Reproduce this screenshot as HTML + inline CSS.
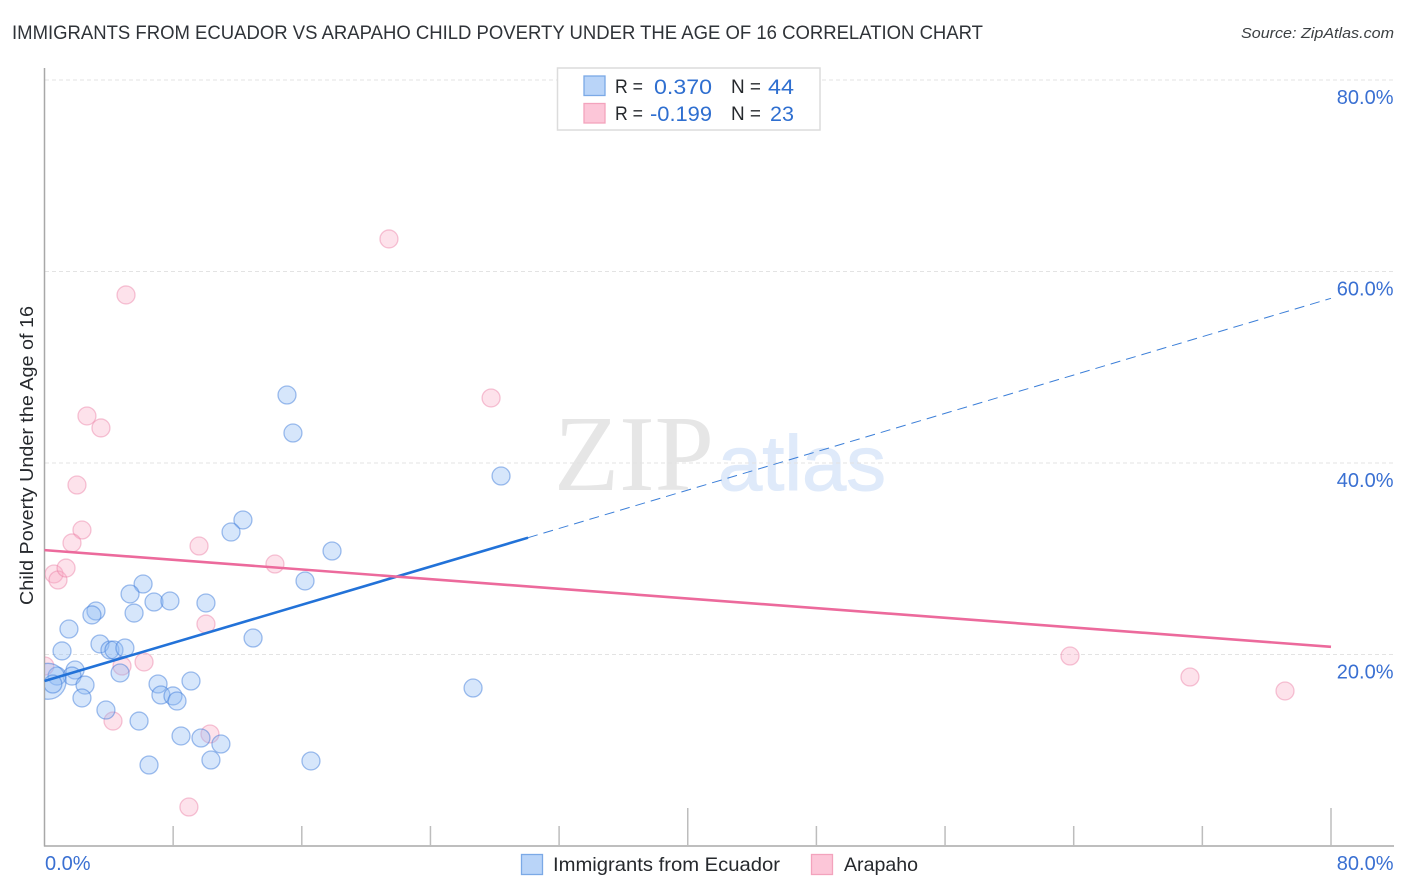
<!DOCTYPE html>
<html lang="en">
<head>
<meta charset="utf-8">
<title>Immigrants from Ecuador vs Arapaho Child Poverty Correlation Chart</title>
<style>
html,body{margin:0;padding:0;background:#fff;}
body{width:1406px;height:892px;overflow:hidden;}
svg{display:block;font-family:"Liberation Sans",Arial,sans-serif;}
</style>
</head>
<body>
<svg id="chart" xmlns="http://www.w3.org/2000/svg" width="1406" height="892" viewBox="0 0 1406 892">
  <defs>
    <clipPath id="plot-clip"><rect x="45" y="68" width="1349" height="778"/></clipPath>
  </defs>
  <rect x="0" y="0" width="1406" height="892" fill="#ffffff"/>
  <text x="12" y="39" font-size="19.5" fill="#2f3338" textLength="971" lengthAdjust="spacingAndGlyphs">IMMIGRANTS FROM ECUADOR VS ARAPAHO CHILD POVERTY UNDER THE AGE OF 16 CORRELATION CHART</text>
  <text x="1241" y="38" font-size="15" font-style="italic" fill="#3c4043" textLength="153" lengthAdjust="spacingAndGlyphs">Source: ZipAtlas.com</text>

  <g>
    <text x="554" y="490" font-family="'Liberation Serif',serif" font-size="108" fill="#e6e6e6" textLength="160" lengthAdjust="spacingAndGlyphs">ZIP</text>
    <text x="718" y="490" font-size="78" fill="#dfeafa" stroke="#dfeafa" stroke-width="1" textLength="168" lengthAdjust="spacingAndGlyphs">atlas</text>
  </g>

  <g id="grid"></g>
  <g id="axes"></g>
  <g id="points" clip-path="url(#plot-clip)"></g>
  <g id="trends"></g>
  <g id="labels"></g>

  <text transform="translate(33,605) rotate(-90)" font-size="18.5" fill="#26292d" textLength="299" lengthAdjust="spacingAndGlyphs">Child Poverty Under the Age of 16</text>

  <g>
    <rect x="557.5" y="68" width="262.5" height="62" fill="#ffffff" stroke="#dcdcdc" stroke-width="1.5"/>
    <rect x="584" y="76" width="21" height="19.5" fill="#b9d4f8" stroke="#7ba9e6" stroke-width="1.3"/>
    <rect x="584" y="103.5" width="21" height="19.5" fill="#fcc6d8" stroke="#f3a3bd" stroke-width="1.3"/>
    <text x="615" y="93" font-size="19" fill="#26292d" textLength="28" lengthAdjust="spacingAndGlyphs">R =</text>
    <text x="654" y="94" font-size="21.5" fill="#2f6fd0" textLength="58" lengthAdjust="spacingAndGlyphs">0.370</text>
    <text x="731" y="93" font-size="19" fill="#26292d" textLength="30" lengthAdjust="spacingAndGlyphs">N =</text>
    <text x="768" y="94" font-size="21.5" fill="#2f6fd0" textLength="26" lengthAdjust="spacingAndGlyphs">44</text>
    <text x="615" y="120" font-size="19" fill="#26292d" textLength="28" lengthAdjust="spacingAndGlyphs">R =</text>
    <text x="650" y="121" font-size="21.5" fill="#2f6fd0" textLength="62" lengthAdjust="spacingAndGlyphs">-0.199</text>
    <text x="731" y="120" font-size="19" fill="#26292d" textLength="30" lengthAdjust="spacingAndGlyphs">N =</text>
    <text x="770" y="121" font-size="21.5" fill="#2f6fd0" textLength="24" lengthAdjust="spacingAndGlyphs">23</text>
  </g>

  <g>
    <rect x="521.5" y="854.5" width="21" height="20" fill="#b9d4f8" stroke="#7ba9e6" stroke-width="1.3"/>
    <text x="553" y="871" font-size="19.5" fill="#26292d" textLength="227" lengthAdjust="spacingAndGlyphs">Immigrants from Ecuador</text>
    <rect x="811.5" y="854.5" width="21" height="20" fill="#fcc6d8" stroke="#f3a3bd" stroke-width="1.3"/>
    <text x="844" y="871" font-size="19.5" fill="#26292d" textLength="74" lengthAdjust="spacingAndGlyphs">Arapaho</text>
  </g>
</svg>

<script>
// Chart data (percent units)
const yTicks = [20, 40, 60, 80];
const yTickLabels = ['20.0%', '40.0%', '60.0%', '80.0%'];
const xTicks = [0, 8, 16, 24, 32, 40, 48, 56, 64, 72, 80];
const xMajorTicks = [40, 80];
const xEdgeLabels = ['0.0%', '80.0%'];

const ecuadorX = [15.08, 15.45, 28.39, 12.34, 11.60, 17.88, 16.20, 6.13, 5.32, 6.81, 7.80, 10.04, 3.20, 2.95, 5.57, 1.52, 12.97, 3.45, 4.07, 4.32, 5.00, 1.09, 1.90, 1.71, 4.70, 0.78, 9.11, 7.06, 2.52, 0.22, 0.52, 26.65, 7.24, 7.99, 8.24, 2.33, 3.82, 5.88, 8.49, 9.73, 10.97, 10.35, 6.50, 16.57];
const ecuadorY = [47.10, 43.13, 38.64, 34.05, 32.79, 30.81, 27.68, 27.36, 26.32, 25.48, 25.59, 25.38, 24.54, 24.13, 24.33, 22.66, 21.72, 21.10, 20.47, 20.47, 20.68, 20.37, 18.38, 17.75, 18.07, 17.75, 17.23, 16.92, 16.81, 17.20, 16.92, 16.50, 15.77, 15.67, 15.14, 15.46, 14.20, 13.05, 11.49, 11.28, 10.65, 8.98, 8.46, 8.88];
const ecuadorWeight = [1, 1, 1, 1, 1, 1, 1, 1, 1, 1, 1, 1, 1, 1, 1, 1, 1, 1, 1, 1, 1, 1, 1, 1, 1, 1, 1, 1, 1, 4, 1, 1, 1, 1, 1, 1, 1, 1, 1, 1, 1, 1, 1, 1];

const arapahoX = [21.42, 5.07, 27.77, 2.64, 3.51, 2.02, 2.33, 1.71, 9.61, 14.33, 0.59, 0.84, 1.34, 10.04, 4.82, 6.19, 0.02, 4.26, 10.29, 8.98, 63.77, 71.23, 77.14];
const arapahoY = [63.40, 57.55, 46.79, 44.91, 43.66, 37.70, 33.00, 31.65, 31.33, 29.45, 28.41, 27.78, 29.03, 23.18, 18.80, 19.22, 18.80, 13.05, 11.70, 4.07, 19.84, 17.65, 16.19];

const ecuadorTrendX = [0, 30.07, 80];
const ecuadorTrendY = [17.23, 32.2, 57.2];
const arapahoTrendX = [0, 80];
const arapahoTrendY = [30.9, 20.8];

// Axis functions
const xScale = v => 44.5 + v * (1331 - 44.5) / 80;
const yScale = v => 846 - v * (846 - 80) / 80;

const NS = 'http://www.w3.org/2000/svg';
function make(tag, parent, attrs, text) {
  const el = document.createElementNS(NS, tag);
  for (const k in attrs) el.setAttribute(k, attrs[k]);
  if (text !== undefined) el.textContent = text;
  parent.appendChild(el);
  return el;
}
const gridG = document.getElementById('grid');
const axesG = document.getElementById('axes');
const pointsG = document.getElementById('points');
const trendsG = document.getElementById('trends');
const labelsG = document.getElementById('labels');

yTicks.forEach((t, i) => {
  const line = make('line', gridG, {x1: 45, x2: 1394, y1: yScale(t), y2: yScale(t), stroke: '#e3e3e3', 'stroke-width': 1, 'stroke-dasharray': '4 3'});
  
  
  const label = make('text', labelsG, {x: 1393.5, y: yScale(t) + 24, 'text-anchor': 'end', 'font-size': 20, fill: '#3a70d2'}, yTickLabels[i]);
  
  
});

const yAxis = make('line', axesG, {x1: 44.5, x2: 44.5, y1: 68, y2: 846.5, stroke: '#a8a8a8', 'stroke-width': 1.5});


const xAxis = make('line', axesG, {x1: 44, x2: 1394, y1: 846, y2: 846, stroke: '#a8a8a8', 'stroke-width': 1.5});


xTicks.slice(1).forEach(t => {
  const top = xMajorTicks.includes(t) ? 808 : 826;
  const tick = make('line', axesG, {x1: xScale(t), x2: xScale(t), y1: top, y2: 846, stroke: '#bdbdbd', 'stroke-width': 1.5});
  
  
});

const xLabelLeft = make('text', labelsG, {x: xScale(xTicks[0]) + 0.5, y: 870, 'font-size': 20, fill: '#3a70d2'}, xEdgeLabels[0]);


const xLabelRight = make('text', labelsG, {x: 1393.5, y: 870, 'text-anchor': 'end', 'font-size': 20, fill: '#3a70d2'}, xEdgeLabels[1]);



const baseRadius = 9;
arapahoX.forEach((x, i) => {
  const c = make('circle', pointsG, {cx: xScale(x), cy: yScale(arapahoY[i]), r: baseRadius, fill: 'rgba(248,170,195,0.34)', stroke: 'rgba(233,120,160,0.42)', 'stroke-width': 1.3});
  
  
});
ecuadorX.forEach((x, i) => {
  const c = make('circle', pointsG, {cx: xScale(x), cy: yScale(ecuadorY[i]), r: baseRadius * Math.sqrt(ecuadorWeight[i]), fill: 'rgba(140,186,243,0.36)', stroke: 'rgba(50,115,215,0.45)', 'stroke-width': 1.3});
  
  
});

const blueSolid = make('line', trendsG, {x1: xScale(ecuadorTrendX[0]), y1: yScale(ecuadorTrendY[0]), x2: xScale(ecuadorTrendX[1]), y2: yScale(ecuadorTrendY[1]), stroke: '#2272d8', 'stroke-width': 2.6});


const blueDash = make('line', trendsG, {x1: xScale(ecuadorTrendX[1]), y1: yScale(ecuadorTrendY[1]), x2: xScale(ecuadorTrendX[2]), y2: yScale(ecuadorTrendY[2]), stroke: '#3c7fd8', 'stroke-width': 1, 'stroke-dasharray': '10 6'});


const pinkLine = make('line', trendsG, {x1: xScale(arapahoTrendX[0]), y1: yScale(arapahoTrendY[0]), x2: xScale(arapahoTrendX[1]), y2: yScale(arapahoTrendY[1]), stroke: '#ec6a9c', 'stroke-width': 2.6});


</script>
</body>
</html>
